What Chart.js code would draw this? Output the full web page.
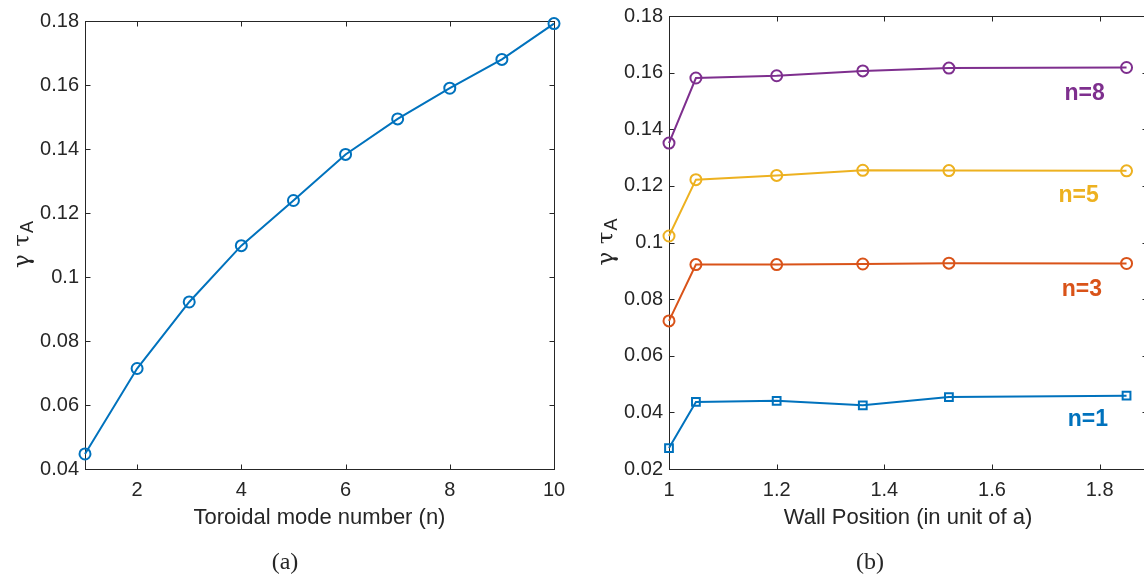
<!DOCTYPE html>
<html>
<head>
<meta charset="utf-8">
<script src="https://cdn.jsdelivr.net/npm/chart.js@4.4.0/dist/chart.umd.min.js"></script>
<style>
  html, body { margin: 0; padding: 0; background: #fff; overflow: hidden; width: 1144px; height: 582px; }
  .panel { position: absolute; top: 0; height: 582px; }
  #left { left: 0; width: 575px; }
  #right { left: 580px; width: 600px; }
</style>
</head>
<body>
<div class="panel" id="left"><canvas id="chartA"></canvas></div>
<div class="panel" id="right"><canvas id="chartB"></canvas></div>
<script>
// (a) growth rate vs toroidal mode number
const modeNumbers = [1, 2, 3, 4, 5, 6, 7, 8, 9, 10];
const growthRates = [0.0447, 0.0714, 0.0922, 0.1098, 0.1239, 0.1383, 0.1494, 0.1590, 0.1680, 0.1792];
const modeTicks = [2, 4, 6, 8, 10];
const rateTicksA = [0.04, 0.06, 0.08, 0.10, 0.12, 0.14, 0.16, 0.18];

// (b) growth rate vs wall position
const wallPositions = [1, 1.05, 1.2, 1.36, 1.52, 1.85];
const rateN1 = [0.0274, 0.0437, 0.0441, 0.0425, 0.0454, 0.0459];
const rateN3 = [0.0723, 0.0922, 0.0922, 0.0924, 0.0927, 0.0926];
const rateN5 = [0.1023, 0.1222, 0.1237, 0.1255, 0.1254, 0.1253];
const rateN8 = [0.1351, 0.1581, 0.1589, 0.1606, 0.1616, 0.1618];
const wallTicks = [1, 1.2, 1.4, 1.6, 1.8];
const rateTicksB = [0.02, 0.04, 0.06, 0.08, 0.10, 0.12, 0.14, 0.16, 0.18];

const INK = '#262626';
const BLUE = '#0072BD', ORANGE = '#D95319', YELLOW = '#EDB120', PURPLE = '#7E2F8E';

Chart.defaults.font.family = "'Liberation Sans', Arial, sans-serif";
Chart.defaults.font.size = 20;
Chart.defaults.color = INK;

const fmt = v => String(+(+v).toFixed(2));

function series(xs, ys, color, style) {
  return {
    data: xs.map((x, i) => ({ x: x, y: ys[i] })),
    borderColor: color,
    borderWidth: 2,
    pointStyle: style,
    pointRadius: style === 'rect' ? 5.5 : 5.5,
    pointHoverRadius: 5.5,
    pointBorderWidth: 2,
    pointBorderColor: color,
    pointBackgroundColor: 'rgba(0,0,0,0)',
    tension: 0,
    clip: false
  };
}

function axes(xMin, xMax, xTicks, yMin, yMax, yTicks, yWidth, xHeight) {
  return {
    x: {
      type: 'linear', min: xMin, max: xMax,
      grid: { display: false, drawTicks: false },
      border: { display: false },
      afterBuildTicks: s => { s.ticks = xTicks.map(v => ({ value: v })); },
      afterFit: s => { s.height = xHeight; },
      ticks: { padding: 9, maxRotation: 0, callback: fmt, font: { lineHeight: 1.2 } }
    },
    y: {
      type: 'linear', min: yMin, max: yMax,
      grid: { display: false, drawTicks: false },
      border: { display: false },
      afterBuildTicks: s => { s.ticks = yTicks.map(v => ({ value: v })); },
      afterFit: s => { s.width = yWidth; },
      ticks: { padding: 6, callback: fmt, font: { lineHeight: 1 } }
    }
  };
}

// box with inward tick marks on all four sides
const framePlugin = {
  id: 'frame',
  beforeDatasetsDraw(chart) {
    const { ctx, chartArea: a, scales } = chart;
    const L = Math.round(a.left) + 0.5, R = Math.round(a.right) + 0.5;
    const T = Math.round(a.top) + 0.5, B = Math.round(a.bottom) + 0.5;
    ctx.save();
    ctx.strokeStyle = INK;
    ctx.lineWidth = 1;
    ctx.strokeRect(L, T, R - L, B - T);
    ctx.beginPath();
    scales.x.ticks.forEach(t => {
      const px = Math.round(scales.x.getPixelForValue(t.value)) + 0.5;
      ctx.moveTo(px, B); ctx.lineTo(px, B - 5);
      ctx.moveTo(px, T); ctx.lineTo(px, T + 5);
    });
    scales.y.ticks.forEach(t => {
      const py = Math.round(scales.y.getPixelForValue(t.value)) + 0.5;
      ctx.moveTo(L, py); ctx.lineTo(L + 5, py);
      ctx.moveTo(R, py); ctx.lineTo(R - 5, py);
    });
    ctx.stroke();
    ctx.restore();
  }
};

// axis titles, caption and y label (gamma tau_A)
function textPlugin(o) {
  return {
    id: 'texts',
    afterDraw(chart) {
      const { ctx, chartArea: a, scales } = chart;
      ctx.save();
      ctx.fillStyle = INK;
      ctx.textAlign = 'center';
      ctx.textBaseline = 'middle';
      ctx.font = "22px 'Liberation Sans', Arial, sans-serif";
      ctx.fillText(o.xTitle, (a.left + a.right) / 2, 518);
      ctx.font = "24px 'Liberation Serif', 'Times New Roman', serif";
      ctx.fillText(o.caption, o.captionX, 563);

      // rotated y label
      const cy = (a.top + a.bottom) / 2;
      ctx.translate(a.left - 56, cy);
      ctx.rotate(-Math.PI / 2);
      ctx.textAlign = 'left';
      ctx.textBaseline = 'alphabetic';
      const gFont = "23px 'DejaVu Serif', 'Liberation Serif', serif";
      const aFont = "18px 'Liberation Sans', Arial, sans-serif";
      ctx.font = gFont;
      const gw = ctx.measureText('γ τ').width;
      ctx.font = aFont;
      const aw = ctx.measureText('A').width;
      const x0 = -(gw + aw) / 2;
      ctx.font = gFont;
      ctx.fillText('γ τ', x0, 0);
      ctx.font = aFont;
      ctx.fillText('A', x0 + gw + 1, 4);
      ctx.restore();

      // curve labels
      if (o.labels) {
        ctx.save();
        ctx.font = "bold 23px 'Liberation Sans', Arial, sans-serif";
        ctx.textAlign = 'center';
        ctx.textBaseline = 'middle';
        o.labels.forEach(l => {
          ctx.fillStyle = l.color;
          ctx.fillText(l.text, scales.x.getPixelForValue(l.x), scales.y.getPixelForValue(l.y));
        });
        ctx.restore();
      }
    }
  };
}

const common = {
  responsive: true,
  maintainAspectRatio: false,
  animation: false,
  events: [],
  plugins: { legend: { display: false }, tooltip: { enabled: false } }
};

new Chart(document.getElementById('chartA'), {
  type: 'line',
  data: { datasets: [series(modeNumbers, growthRates, BLUE, 'circle')] },
  options: Object.assign({}, common, {
    layout: { padding: { left: 0, right: 21, top: 21, bottom: 0 } },
    scales: axes(1, 10, modeTicks, 0.04, 0.18, rateTicksA, 85, 113)
  }),
  plugins: [framePlugin, textPlugin({ xTitle: 'Toroidal mode number (n)', caption: '(a)', captionX: 285 })]
});

new Chart(document.getElementById('chartB'), {
  type: 'line',
  data: {
    datasets: [
      series(wallPositions, rateN1, BLUE, 'rect'),
      series(wallPositions, rateN3, ORANGE, 'circle'),
      series(wallPositions, rateN5, YELLOW, 'circle'),
      series(wallPositions, rateN8, PURPLE, 'circle')
    ]
  },
  options: Object.assign({}, common, {
    layout: { padding: { left: 0, right: 33, top: 12, bottom: 0 } },
    scales: axes(1, 1.888, wallTicks, 0.02, 0.18, rateTicksB, 89, 113)
  }),
  plugins: [framePlugin, textPlugin({
    xTitle: 'Wall Position (in unit of a)', caption: '(b)', captionX: 290,
    labels: [
      { text: 'n=8', x: 1.772, y: 0.1526, color: PURPLE },
      { text: 'n=5', x: 1.761, y: 0.1165, color: YELLOW },
      { text: 'n=3', x: 1.767, y: 0.0832, color: ORANGE },
      { text: 'n=1', x: 1.778, y: 0.0375, color: BLUE }
    ]
  })]
});
</script>
</body>
</html>
